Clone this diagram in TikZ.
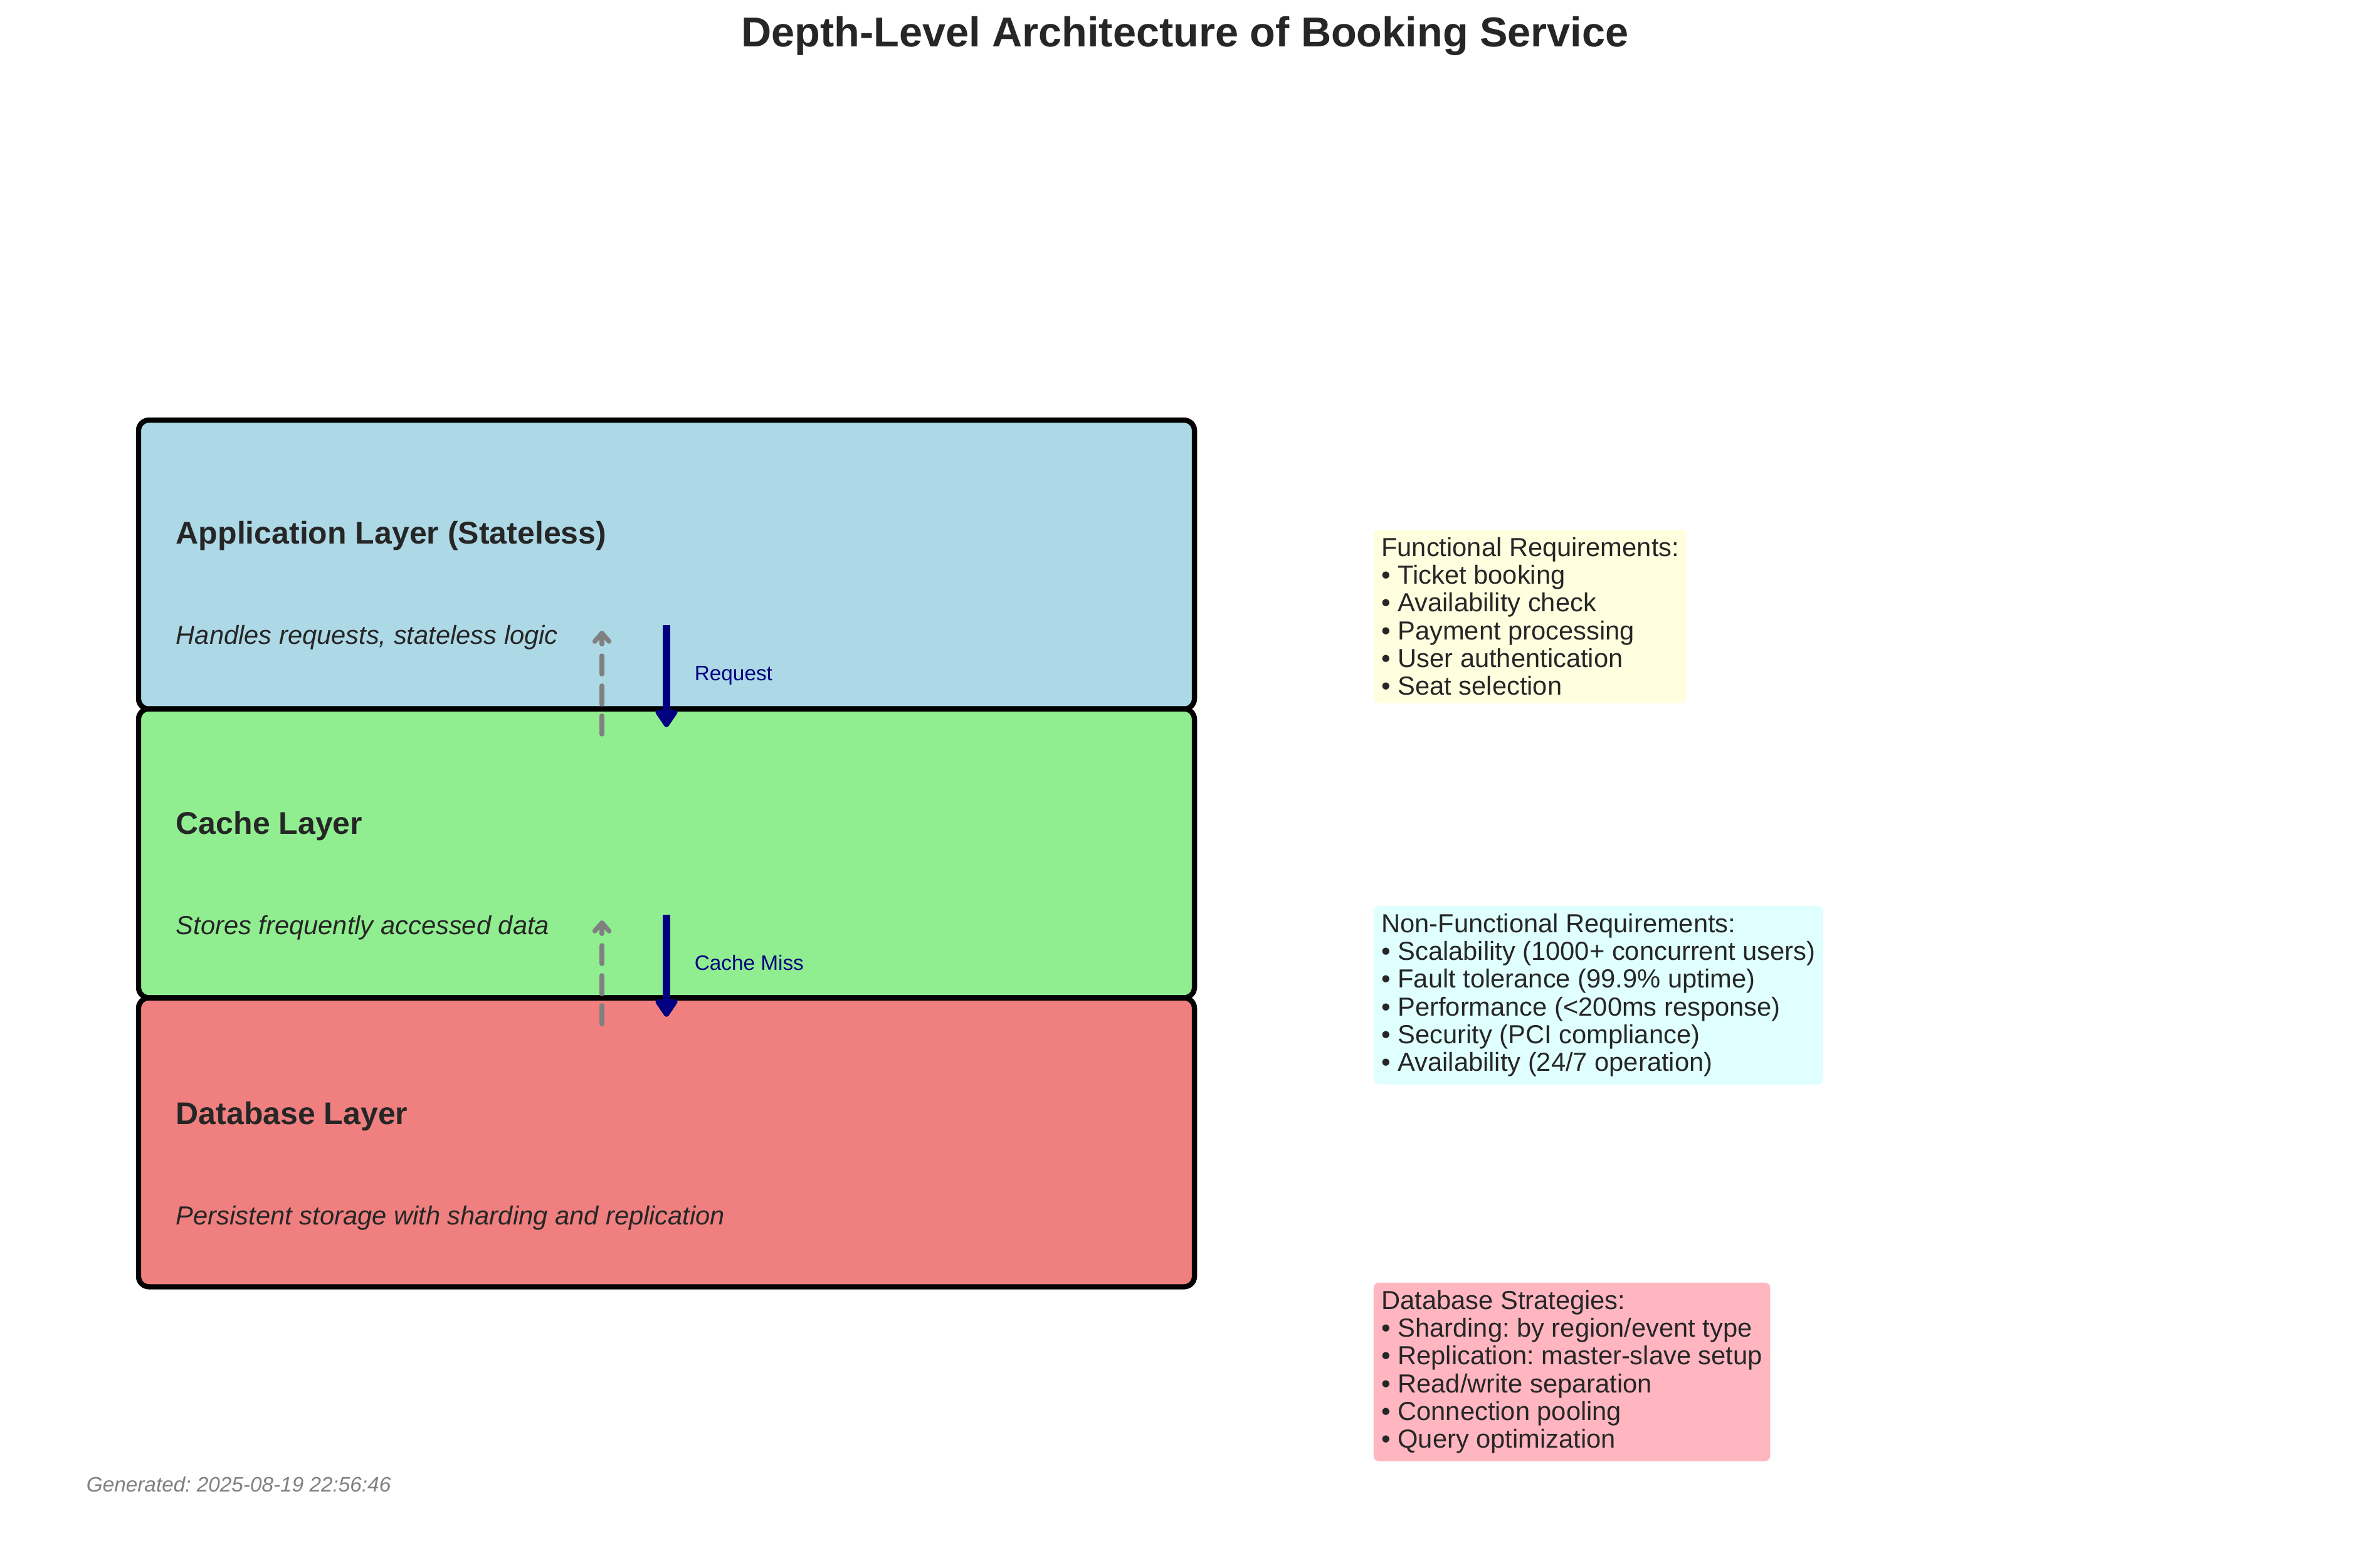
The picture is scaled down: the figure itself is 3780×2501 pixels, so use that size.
\documentclass[tikz,border=0pt]{standalone}
\usepackage{fontspec}
\setmainfont{Liberation Sans}
\usetikzlibrary{arrows.meta}
\definecolor{appblue}{HTML}{ADD8E6}
\definecolor{cachegreen}{HTML}{90EE90}
\definecolor{dbred}{HTML}{F08080}
\definecolor{funyellow}{HTML}{FFFFE0}
\definecolor{nfcyan}{HTML}{E0FFFF}
\definecolor{dbpink}{HTML}{FFB6C1}
\definecolor{txt}{HTML}{262626}
\definecolor{navyc}{HTML}{000080}
\definecolor{footgray}{HTML}{808080}
\frenchspacing
\begin{document}
\begin{tikzpicture}[x=0.24pt, y=-0.24pt,
 layerbox/.style={draw=black, line width=2pt, rounded corners=4pt, minimum width=404.2pt, minimum height=110.6pt, inner sep=0pt},
 layertitle/.style={anchor=base west, inner sep=0pt, text=txt, font=\fontsize{12}{14}\selectfont\bfseries},
 layerdesc/.style={anchor=base west, inner sep=0pt, text=txt, font=\fontsize{10}{12}\selectfont\itshape},
 flowarrow/.style={draw=navyc, line width=2.9pt, -{Triangle[width=9.5pt,length=7.5pt,line join=round]}},
 backarrow/.style={draw=footgray, line width=1.8pt, dash pattern=on 7pt off 4.5pt, line cap=round, -{Straight Barb[width=5.5pt,length=3.2pt,round]}},
 flowlabel/.style={anchor=base west, inner sep=0pt, text=navyc, font=\fontsize{8}{10}\selectfont},
 infobox/.style={anchor=north west, align=left, inner xsep=3pt, inner ysep=3pt, rounded corners=2pt, text=txt, font=\fontsize{10}{10.6}\selectfont}]
\fill[white] (0,0) rectangle (3780,2501);
\useasboundingbox (0,0) rectangle (3780,2501);

% title
\node[anchor=base, inner sep=0pt, text=txt, font=\fontsize{16}{19}\selectfont\bfseries] (title) at (1890,75) {Depth-Level Architecture of Booking Service};

% layers
\node[layerbox, fill=appblue] (app) at (1063,900.5) {};
\node[layerbox, fill=cachegreen] (cache) at (1063,1361) {};
\node[layerbox, fill=dbred] (db) at (1063,1822) {};

\node[layertitle] (appt) at (280,867) {Application Layer (Stateless)};
\node[layerdesc] (appd) at (280,1027) {Handles requests, stateless logic};
\node[layertitle] (cachet) at (280,1330) {Cache Layer};
\node[layerdesc] (cached) at (280,1490) {Stores frequently accessed data};
\node[layertitle] (dbt) at (280,1793) {Database Layer};
\node[layerdesc] (dbd) at (280,1953) {Persistent storage with sharding and replication};

% arrows
\coordinate (reqA) at (1063,997);
\coordinate (reqB) at (1063,1160);
\coordinate (resA) at (960,1171);
\coordinate (resB) at (960,1006);
\coordinate (missA) at (1063,1459);
\coordinate (missB) at (1063,1622);
\coordinate (fillA) at (960,1633);
\coordinate (fillB) at (960,1468);
\draw[backarrow] (resA) -- (resB);
\draw[flowarrow] (reqA) -- (reqB);
\draw[backarrow] (fillA) -- (fillB);
\draw[flowarrow] (missA) -- (missB);
\node[flowlabel] (reql) at (1107,1085) {Request};
\node[flowlabel] (missl) at (1107,1547) {Cache Miss};

% info boxes
\node[infobox, fill=funyellow] (func) at (2190,844) {Functional Requirements:\\
• Ticket booking\\
• Availability check\\
• Payment processing\\
• User authentication\\
• Seat selection};
\node[infobox, fill=nfcyan] (nonfunc) at (2190,1444) {Non-Functional Requirements:\\
• Scalability (1000+ concurrent users)\\
• Fault tolerance (99.9\% uptime)\\
• Performance (<200ms response)\\
• Security (PCI compliance)\\
• Availability (24/7 operation)};
\node[infobox, fill=dbpink] (dbs) at (2190,2045) {Database Strategies:\\
• Sharding: by region/event type\\
• Replication: master-slave setup\\
• Read/write separation\\
• Connection pooling\\
• Query optimization};

% footer
\node[anchor=base west, inner sep=0pt, text=footgray, font=\fontsize{8}{10}\selectfont\itshape] (foot) at (137,2379) {Generated: 2025-08-19 22:56:46};
\end{tikzpicture}
\end{document}
